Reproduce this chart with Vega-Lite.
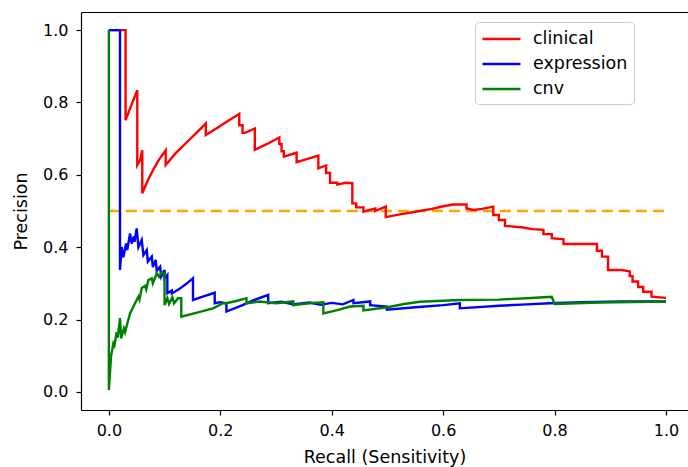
{
  "$schema": "https://vega.github.io/schema/vega-lite/v6.json",
  "width": 607,
  "height": 398,
  "autosize": {"type": "none"},
  "padding": {"left": 81, "top": 12, "right": 0, "bottom": 57},
  "background": "white",
  "config": {
    "view": {"stroke": null},
    "font": "DejaVu Sans",
    "axis": {
      "grid": false,
      "domainColor": "black",
      "domainWidth": 1.2,
      "tickColor": "black",
      "tickSize": 5,
      "tickWidth": 1.2,
      "labelColor": "black",
      "labelFont": "DejaVu Sans",
      "labelFontSize": 16,
      "titleColor": "black",
      "titleFont": "DejaVu Sans",
      "titleFontSize": 17.5,
      "titleFontWeight": "normal"
    },
    "legend": {
      "orient": "none",
      "legendX": 394,
      "legendY": 10,
      "strokeColor": "#cccccc",
      "cornerRadius": 4,
      "fillColor": "rgba(255,255,255,0.8)",
      "padding": 6,
      "symbolType": "M-1,0H3",
      "symbolStrokeWidth": 2.5,
      "symbolSize": 361,
      "labelFont": "DejaVu Sans",
      "labelFontSize": 17.5,
      "labelColor": "black",
      "labelOffset": 30,
      "rowPadding": 5
    }
  },
  "datasets": {
    "base": [{"x": 0, "y": 0.5}, {"x": 1, "y": 0.5}],
    "curves": [
      {"s": "clinical", "i": 1, "x": 0, "y": 1.0},
      {"s": "clinical", "i": 2, "x": 0.03, "y": 1.0},
      {"s": "clinical", "i": 3, "x": 0.03, "y": 0.751},
      {"s": "clinical", "i": 4, "x": 0.051, "y": 0.834},
      {"s": "clinical", "i": 5, "x": 0.051, "y": 0.627},
      {"s": "clinical", "i": 6, "x": 0.056, "y": 0.64},
      {"s": "clinical", "i": 7, "x": 0.06, "y": 0.668},
      {"s": "clinical", "i": 8, "x": 0.06, "y": 0.549},
      {"s": "clinical", "i": 9, "x": 0.07, "y": 0.585},
      {"s": "clinical", "i": 10, "x": 0.08, "y": 0.615},
      {"s": "clinical", "i": 11, "x": 0.09, "y": 0.642},
      {"s": "clinical", "i": 12, "x": 0.102, "y": 0.668},
      {"s": "clinical", "i": 13, "x": 0.102, "y": 0.627},
      {"s": "clinical", "i": 14, "x": 0.12, "y": 0.66},
      {"s": "clinical", "i": 15, "x": 0.14, "y": 0.69},
      {"s": "clinical", "i": 16, "x": 0.16, "y": 0.72},
      {"s": "clinical", "i": 17, "x": 0.174, "y": 0.742},
      {"s": "clinical", "i": 18, "x": 0.174, "y": 0.71},
      {"s": "clinical", "i": 19, "x": 0.19, "y": 0.725},
      {"s": "clinical", "i": 20, "x": 0.21, "y": 0.745},
      {"s": "clinical", "i": 21, "x": 0.234, "y": 0.768},
      {"s": "clinical", "i": 22, "x": 0.234, "y": 0.737},
      {"s": "clinical", "i": 23, "x": 0.24, "y": 0.737},
      {"s": "clinical", "i": 24, "x": 0.24, "y": 0.716},
      {"s": "clinical", "i": 25, "x": 0.244, "y": 0.716},
      {"s": "clinical", "i": 26, "x": 0.262, "y": 0.728},
      {"s": "clinical", "i": 27, "x": 0.262, "y": 0.669},
      {"s": "clinical", "i": 28, "x": 0.285, "y": 0.686},
      {"s": "clinical", "i": 29, "x": 0.306, "y": 0.703},
      {"s": "clinical", "i": 30, "x": 0.306, "y": 0.685},
      {"s": "clinical", "i": 31, "x": 0.31, "y": 0.685},
      {"s": "clinical", "i": 32, "x": 0.31, "y": 0.665},
      {"s": "clinical", "i": 33, "x": 0.314, "y": 0.665},
      {"s": "clinical", "i": 34, "x": 0.314, "y": 0.65},
      {"s": "clinical", "i": 35, "x": 0.337, "y": 0.661},
      {"s": "clinical", "i": 36, "x": 0.337, "y": 0.635},
      {"s": "clinical", "i": 37, "x": 0.376, "y": 0.653},
      {"s": "clinical", "i": 38, "x": 0.376, "y": 0.618},
      {"s": "clinical", "i": 39, "x": 0.39, "y": 0.626},
      {"s": "clinical", "i": 40, "x": 0.39, "y": 0.605},
      {"s": "clinical", "i": 41, "x": 0.397, "y": 0.605},
      {"s": "clinical", "i": 42, "x": 0.397, "y": 0.578},
      {"s": "clinical", "i": 43, "x": 0.41, "y": 0.578},
      {"s": "clinical", "i": 44, "x": 0.41, "y": 0.573},
      {"s": "clinical", "i": 45, "x": 0.425, "y": 0.578},
      {"s": "clinical", "i": 46, "x": 0.437, "y": 0.577},
      {"s": "clinical", "i": 47, "x": 0.437, "y": 0.521},
      {"s": "clinical", "i": 48, "x": 0.444, "y": 0.521},
      {"s": "clinical", "i": 49, "x": 0.444, "y": 0.51},
      {"s": "clinical", "i": 50, "x": 0.457, "y": 0.51},
      {"s": "clinical", "i": 51, "x": 0.457, "y": 0.498},
      {"s": "clinical", "i": 52, "x": 0.478, "y": 0.507},
      {"s": "clinical", "i": 53, "x": 0.478, "y": 0.5},
      {"s": "clinical", "i": 54, "x": 0.497, "y": 0.512},
      {"s": "clinical", "i": 55, "x": 0.497, "y": 0.483},
      {"s": "clinical", "i": 56, "x": 0.52, "y": 0.49},
      {"s": "clinical", "i": 57, "x": 0.55, "y": 0.498},
      {"s": "clinical", "i": 58, "x": 0.58, "y": 0.506},
      {"s": "clinical", "i": 59, "x": 0.6, "y": 0.513},
      {"s": "clinical", "i": 60, "x": 0.618, "y": 0.518},
      {"s": "clinical", "i": 61, "x": 0.642, "y": 0.518},
      {"s": "clinical", "i": 62, "x": 0.642, "y": 0.507},
      {"s": "clinical", "i": 63, "x": 0.655, "y": 0.503},
      {"s": "clinical", "i": 64, "x": 0.67, "y": 0.506},
      {"s": "clinical", "i": 65, "x": 0.69, "y": 0.512},
      {"s": "clinical", "i": 66, "x": 0.69, "y": 0.489},
      {"s": "clinical", "i": 67, "x": 0.7, "y": 0.489},
      {"s": "clinical", "i": 68, "x": 0.7, "y": 0.475},
      {"s": "clinical", "i": 69, "x": 0.711, "y": 0.475},
      {"s": "clinical", "i": 70, "x": 0.711, "y": 0.459},
      {"s": "clinical", "i": 71, "x": 0.74, "y": 0.455},
      {"s": "clinical", "i": 72, "x": 0.76, "y": 0.45},
      {"s": "clinical", "i": 73, "x": 0.78, "y": 0.448},
      {"s": "clinical", "i": 74, "x": 0.78, "y": 0.436},
      {"s": "clinical", "i": 75, "x": 0.795, "y": 0.436},
      {"s": "clinical", "i": 76, "x": 0.795, "y": 0.425},
      {"s": "clinical", "i": 77, "x": 0.816, "y": 0.422},
      {"s": "clinical", "i": 78, "x": 0.816, "y": 0.409},
      {"s": "clinical", "i": 79, "x": 0.876, "y": 0.409},
      {"s": "clinical", "i": 80, "x": 0.876, "y": 0.39},
      {"s": "clinical", "i": 81, "x": 0.885, "y": 0.39},
      {"s": "clinical", "i": 82, "x": 0.885, "y": 0.374},
      {"s": "clinical", "i": 83, "x": 0.896, "y": 0.374},
      {"s": "clinical", "i": 84, "x": 0.896, "y": 0.337},
      {"s": "clinical", "i": 85, "x": 0.92, "y": 0.337},
      {"s": "clinical", "i": 86, "x": 0.935, "y": 0.333},
      {"s": "clinical", "i": 87, "x": 0.935, "y": 0.32},
      {"s": "clinical", "i": 88, "x": 0.94, "y": 0.32},
      {"s": "clinical", "i": 89, "x": 0.94, "y": 0.305},
      {"s": "clinical", "i": 90, "x": 0.95, "y": 0.305},
      {"s": "clinical", "i": 91, "x": 0.95, "y": 0.29},
      {"s": "clinical", "i": 92, "x": 0.959, "y": 0.29},
      {"s": "clinical", "i": 93, "x": 0.959, "y": 0.277},
      {"s": "clinical", "i": 94, "x": 0.974, "y": 0.277},
      {"s": "clinical", "i": 95, "x": 0.974, "y": 0.263},
      {"s": "clinical", "i": 96, "x": 1.0, "y": 0.26},

      {"s": "expression", "i": 1, "x": 0, "y": 1.0},
      {"s": "expression", "i": 2, "x": 0.02, "y": 1.0},
      {"s": "expression", "i": 3, "x": 0.02, "y": 0.337},
      {"s": "expression", "i": 4, "x": 0.023, "y": 0.401},
      {"s": "expression", "i": 5, "x": 0.026, "y": 0.372},
      {"s": "expression", "i": 6, "x": 0.031, "y": 0.41},
      {"s": "expression", "i": 7, "x": 0.033, "y": 0.392},
      {"s": "expression", "i": 8, "x": 0.038, "y": 0.438},
      {"s": "expression", "i": 9, "x": 0.041, "y": 0.41},
      {"s": "expression", "i": 10, "x": 0.045, "y": 0.43},
      {"s": "expression", "i": 11, "x": 0.046, "y": 0.415},
      {"s": "expression", "i": 12, "x": 0.05, "y": 0.452},
      {"s": "expression", "i": 13, "x": 0.053, "y": 0.4},
      {"s": "expression", "i": 14, "x": 0.059, "y": 0.42},
      {"s": "expression", "i": 15, "x": 0.062, "y": 0.378},
      {"s": "expression", "i": 16, "x": 0.068, "y": 0.392},
      {"s": "expression", "i": 17, "x": 0.07, "y": 0.36},
      {"s": "expression", "i": 18, "x": 0.077, "y": 0.374},
      {"s": "expression", "i": 19, "x": 0.079, "y": 0.345},
      {"s": "expression", "i": 20, "x": 0.084, "y": 0.365},
      {"s": "expression", "i": 21, "x": 0.086, "y": 0.335},
      {"s": "expression", "i": 22, "x": 0.092, "y": 0.346},
      {"s": "expression", "i": 23, "x": 0.094, "y": 0.318},
      {"s": "expression", "i": 24, "x": 0.1, "y": 0.337},
      {"s": "expression", "i": 25, "x": 0.1, "y": 0.314},
      {"s": "expression", "i": 26, "x": 0.105, "y": 0.323},
      {"s": "expression", "i": 27, "x": 0.105, "y": 0.273},
      {"s": "expression", "i": 28, "x": 0.113, "y": 0.28},
      {"s": "expression", "i": 29, "x": 0.113, "y": 0.272},
      {"s": "expression", "i": 30, "x": 0.127, "y": 0.285},
      {"s": "expression", "i": 31, "x": 0.14, "y": 0.3},
      {"s": "expression", "i": 32, "x": 0.151, "y": 0.314},
      {"s": "expression", "i": 33, "x": 0.151, "y": 0.254},
      {"s": "expression", "i": 34, "x": 0.17, "y": 0.264},
      {"s": "expression", "i": 35, "x": 0.19, "y": 0.274},
      {"s": "expression", "i": 36, "x": 0.19, "y": 0.245},
      {"s": "expression", "i": 37, "x": 0.2, "y": 0.248},
      {"s": "expression", "i": 38, "x": 0.211, "y": 0.245},
      {"s": "expression", "i": 39, "x": 0.211, "y": 0.222},
      {"s": "expression", "i": 40, "x": 0.24, "y": 0.24},
      {"s": "expression", "i": 41, "x": 0.26, "y": 0.254},
      {"s": "expression", "i": 42, "x": 0.277, "y": 0.263},
      {"s": "expression", "i": 43, "x": 0.286, "y": 0.268},
      {"s": "expression", "i": 44, "x": 0.286, "y": 0.245},
      {"s": "expression", "i": 45, "x": 0.31, "y": 0.249},
      {"s": "expression", "i": 46, "x": 0.33, "y": 0.242},
      {"s": "expression", "i": 47, "x": 0.36, "y": 0.247},
      {"s": "expression", "i": 48, "x": 0.38, "y": 0.241},
      {"s": "expression", "i": 49, "x": 0.4, "y": 0.246},
      {"s": "expression", "i": 50, "x": 0.42, "y": 0.242},
      {"s": "expression", "i": 51, "x": 0.439, "y": 0.254},
      {"s": "expression", "i": 52, "x": 0.439, "y": 0.245},
      {"s": "expression", "i": 53, "x": 0.469, "y": 0.25},
      {"s": "expression", "i": 54, "x": 0.469, "y": 0.24},
      {"s": "expression", "i": 55, "x": 0.499, "y": 0.236},
      {"s": "expression", "i": 56, "x": 0.499, "y": 0.227},
      {"s": "expression", "i": 57, "x": 0.55, "y": 0.234},
      {"s": "expression", "i": 58, "x": 0.6, "y": 0.24},
      {"s": "expression", "i": 59, "x": 0.63, "y": 0.245},
      {"s": "expression", "i": 60, "x": 0.63, "y": 0.231},
      {"s": "expression", "i": 61, "x": 0.7, "y": 0.238},
      {"s": "expression", "i": 62, "x": 0.75, "y": 0.242},
      {"s": "expression", "i": 63, "x": 0.792, "y": 0.245},
      {"s": "expression", "i": 64, "x": 0.85, "y": 0.248},
      {"s": "expression", "i": 65, "x": 0.92, "y": 0.25},
      {"s": "expression", "i": 66, "x": 1.0, "y": 0.25},

      {"s": "cnv", "i": 1, "x": 0, "y": 1.0},
      {"s": "cnv", "i": 2, "x": 0, "y": 0.005},
      {"s": "cnv", "i": 3, "x": 0.004, "y": 0.1},
      {"s": "cnv", "i": 4, "x": 0.006, "y": 0.116},
      {"s": "cnv", "i": 5, "x": 0.008, "y": 0.134},
      {"s": "cnv", "i": 6, "x": 0.01, "y": 0.128},
      {"s": "cnv", "i": 7, "x": 0.014, "y": 0.165},
      {"s": "cnv", "i": 8, "x": 0.016, "y": 0.15},
      {"s": "cnv", "i": 9, "x": 0.02, "y": 0.204},
      {"s": "cnv", "i": 10, "x": 0.022, "y": 0.148},
      {"s": "cnv", "i": 11, "x": 0.027, "y": 0.175},
      {"s": "cnv", "i": 12, "x": 0.029, "y": 0.165},
      {"s": "cnv", "i": 13, "x": 0.038, "y": 0.217},
      {"s": "cnv", "i": 14, "x": 0.047, "y": 0.245},
      {"s": "cnv", "i": 15, "x": 0.053, "y": 0.263},
      {"s": "cnv", "i": 16, "x": 0.055, "y": 0.255},
      {"s": "cnv", "i": 17, "x": 0.059, "y": 0.287},
      {"s": "cnv", "i": 18, "x": 0.065, "y": 0.293},
      {"s": "cnv", "i": 19, "x": 0.067, "y": 0.283},
      {"s": "cnv", "i": 20, "x": 0.071, "y": 0.309},
      {"s": "cnv", "i": 21, "x": 0.077, "y": 0.314},
      {"s": "cnv", "i": 22, "x": 0.079, "y": 0.3},
      {"s": "cnv", "i": 23, "x": 0.086, "y": 0.328},
      {"s": "cnv", "i": 24, "x": 0.09, "y": 0.318},
      {"s": "cnv", "i": 25, "x": 0.095, "y": 0.332},
      {"s": "cnv", "i": 26, "x": 0.1, "y": 0.326},
      {"s": "cnv", "i": 27, "x": 0.1, "y": 0.24},
      {"s": "cnv", "i": 28, "x": 0.105, "y": 0.259},
      {"s": "cnv", "i": 29, "x": 0.108, "y": 0.243},
      {"s": "cnv", "i": 30, "x": 0.114, "y": 0.262},
      {"s": "cnv", "i": 31, "x": 0.117, "y": 0.245},
      {"s": "cnv", "i": 32, "x": 0.124, "y": 0.259},
      {"s": "cnv", "i": 33, "x": 0.13, "y": 0.259},
      {"s": "cnv", "i": 34, "x": 0.13, "y": 0.208},
      {"s": "cnv", "i": 35, "x": 0.16, "y": 0.22},
      {"s": "cnv", "i": 36, "x": 0.187, "y": 0.231},
      {"s": "cnv", "i": 37, "x": 0.205, "y": 0.245},
      {"s": "cnv", "i": 38, "x": 0.211, "y": 0.245},
      {"s": "cnv", "i": 39, "x": 0.23, "y": 0.252},
      {"s": "cnv", "i": 40, "x": 0.247, "y": 0.259},
      {"s": "cnv", "i": 41, "x": 0.247, "y": 0.245},
      {"s": "cnv", "i": 42, "x": 0.27, "y": 0.25},
      {"s": "cnv", "i": 43, "x": 0.3, "y": 0.245},
      {"s": "cnv", "i": 44, "x": 0.331, "y": 0.25},
      {"s": "cnv", "i": 45, "x": 0.331, "y": 0.24},
      {"s": "cnv", "i": 46, "x": 0.36, "y": 0.245},
      {"s": "cnv", "i": 47, "x": 0.385, "y": 0.248},
      {"s": "cnv", "i": 48, "x": 0.385, "y": 0.217},
      {"s": "cnv", "i": 49, "x": 0.41, "y": 0.226},
      {"s": "cnv", "i": 50, "x": 0.433, "y": 0.236},
      {"s": "cnv", "i": 51, "x": 0.457, "y": 0.238},
      {"s": "cnv", "i": 52, "x": 0.457, "y": 0.225},
      {"s": "cnv", "i": 53, "x": 0.5, "y": 0.234},
      {"s": "cnv", "i": 54, "x": 0.53, "y": 0.243},
      {"s": "cnv", "i": 55, "x": 0.558, "y": 0.249},
      {"s": "cnv", "i": 56, "x": 0.63, "y": 0.254},
      {"s": "cnv", "i": 57, "x": 0.7, "y": 0.255},
      {"s": "cnv", "i": 58, "x": 0.75, "y": 0.259},
      {"s": "cnv", "i": 59, "x": 0.795, "y": 0.263},
      {"s": "cnv", "i": 60, "x": 0.8, "y": 0.243},
      {"s": "cnv", "i": 61, "x": 0.88, "y": 0.247},
      {"s": "cnv", "i": 62, "x": 1.0, "y": 0.25}
    ]
  },
  "layer": [
    {
      "data": {"name": "base"},
      "mark": {"type": "line", "color": "#ffa500", "strokeWidth": 2.3, "strokeDash": [11, 6], "clip": true},
      "encoding": {
        "x": {"field": "x", "type": "quantitative", "scale": {"domain": [-0.05, 1.0395], "nice": false, "zero": false},
              "axis": {"values": [0, 0.2, 0.4, 0.6, 0.8, 1.0], "format": ".1f", "title": "Recall (Sensitivity)", "labelPadding": 7, "titlePadding": 10}},
        "y": {"field": "y", "type": "quantitative", "scale": {"domain": [-0.05, 1.05], "nice": false, "zero": false},
              "axis": {"values": [0, 0.2, 0.4, 0.6, 0.8, 1.0], "format": ".1f", "title": "Precision", "labelPadding": 8, "titlePadding": 12}}
      }
    },
    {
      "data": {"name": "curves"},
      "mark": {"type": "line", "strokeWidth": 2.4, "clip": true},
      "encoding": {
        "x": {"field": "x", "type": "quantitative", "axis": {"orient": "top", "labels": false, "ticks": false, "title": null, "values": []}},
        "y": {"field": "y", "type": "quantitative"},
        "order": {"field": "i", "type": "quantitative"},
        "color": {"field": "s", "type": "nominal", "title": null,
                  "scale": {"domain": ["clinical", "expression", "cnv"], "range": ["#ff0000", "#0000ff", "#008000"]}}
      }
    }
  ],
  "resolve": {"axis": {"x": "independent"}}
}
